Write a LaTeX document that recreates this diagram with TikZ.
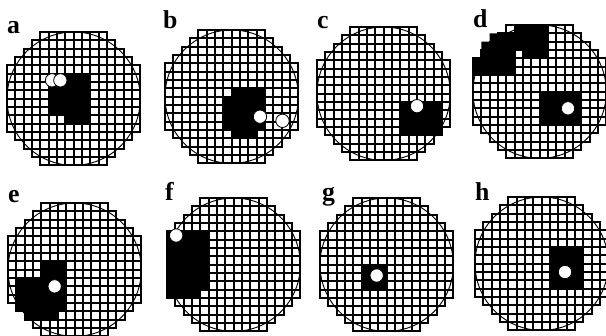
\documentclass[tikz,border=0pt]{standalone}
\usepackage{fontspec}
\setmainfont{Liberation Serif}
\tikzset{
    gridcell/.style={draw=black,line width=1.6pt},
    rimline/.style={draw=black,line width=0.8pt},
    spot/.style={fill=white,draw=black,line width=0.7pt},
    panellabel/.style={anchor=base west,inner sep=0pt,font=\fontsize{22}{22}\selectfont\bfseries}
}
% #1,#2 top left corner of the grid (px), #3 black cells, #4 white spots
\newcommand{\cellpanel}[4]{%
    \begin{scope}[shift={(#1,#2)},x=2.5mm,y=-2.5mm]
        \fill #3;
        \foreach \rr in {0,...,15}{
            \foreach \cc in {0,...,15}{
                \pgfmathtruncatemacro{\inside}{(\cc-7.5)^2+(\rr-7.5)^2<72.25}
                \ifnum\inside=1 \draw[gridcell] (\cc,\rr) rectangle ++(1,1);\fi
            }
        }
        \draw[rimline] (8,8) circle (20mm);
        #4
    \end{scope}}

\begin{document}
\begin{tikzpicture}[x=0.3mm,y=-0.3mm]
    \useasboundingbox (0,0) rectangle (606,335);
    % top row
    \cellpanel{7}{32}{(6,5) rectangle (10,6) (5,6) rectangle (10,10) (7,10) rectangle (10,11)}
        {\draw[spot] (5.4,5.8) circle (2mm); \draw[spot] (6.4,5.8) circle (2mm);}
    \node[panellabel] (la) at (7,33) {a};
    \cellpanel{165}{30}{(8,7) rectangle (12,8) (7,8) rectangle (12,12) (8,12) rectangle (11,13)}
        {\draw[spot] (11.4,10.4) circle (2mm); \draw[spot] (14.1,10.9) circle (2mm);}
    \node[panellabel] (lb) at (163,28) {b};
    \cellpanel{317}{27}{(10,9) rectangle (15,13)}
        {\draw[spot] (12,9.5) circle (2mm);}
    \node[panellabel] (lc) at (317,28) {c};
    \cellpanel{473}{25}{(5,0) rectangle (9,1) (2,1) rectangle (9,2) (1,2) rectangle (9,3)
        (1,3) rectangle (5,4) (6,3) rectangle (9,4) (0,4) rectangle (5,6) (8,8) rectangle (13,12)}
        {\draw[spot] (11.4,10) circle (2mm);}
    \node[panellabel] (ld) at (473,27) {d};
    % bottom row
    \cellpanel{8}{203}{(4,7) rectangle (7,9) (1,9) rectangle (7,13) (2,13) rectangle (6,14)}
        {\draw[spot] (5.6,10) circle (2mm);}
    \node[panellabel] (le) at (8,202) {e};
    \cellpanel{167}{198}{(0,4) rectangle (5,11) (0,11) rectangle (4,12)}
        {\draw[spot] (1.1,4.5) circle (2mm);}
    \node[panellabel] (lf) at (165,200) {f};
    \cellpanel{320}{198}{(5,8) rectangle (8,11)}
        {\draw[spot] (6.8,9.3) circle (2mm);}
    \node[panellabel] (lg) at (322,200) {g};
    \cellpanel{475}{197}{(9,6) rectangle (13,11)}
        {\draw[spot] (10.8,9) circle (2mm);}
    \node[panellabel] (lh) at (475,200) {h};
\end{tikzpicture}
\end{document}
